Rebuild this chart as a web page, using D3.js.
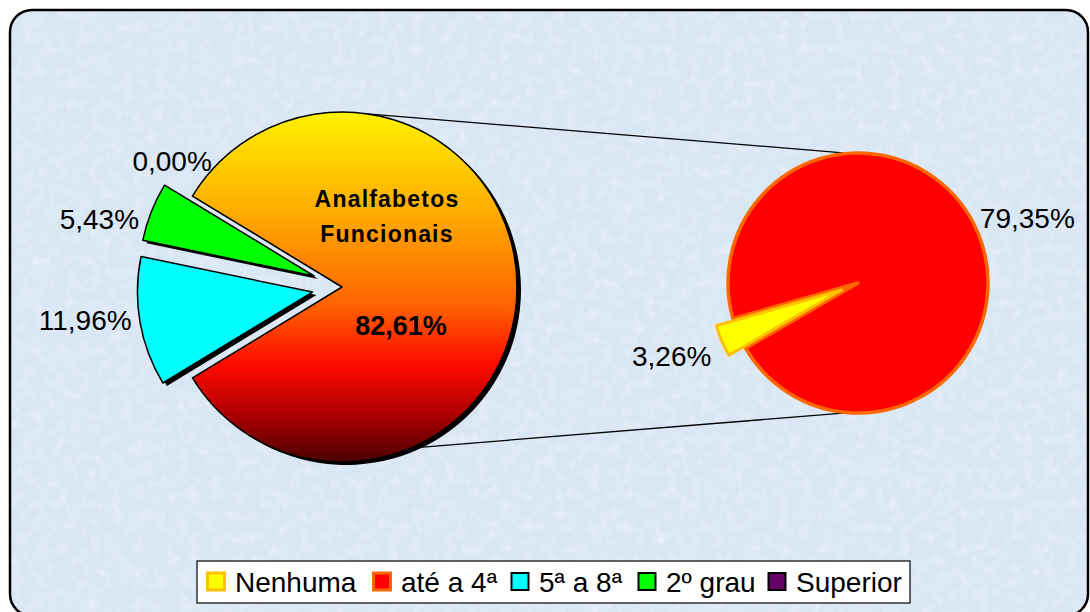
<!DOCTYPE html>
<html>
<head>
<meta charset="utf-8">
<script src="https://cdn.jsdelivr.net/npm/d3@7"></script>
<style>
  body { margin: 0; background: #fff; }
  svg { display: block; font-family: "Liberation Sans", Arial, sans-serif; }
</style>
</head>
<body>
<svg id="chart" width="1090" height="612"></svg>
<script>
// data
const mainLabels = ["Analfabetos Funcionais", "5ª a 8ª", "2º grau", "Superior"];
const mainValues = [82.61, 11.96, 5.43, 0.00];
const subLabels = ["Nenhuma", "até a 4ª"];
const subValues = [3.26, 79.35];
const legendLabels = ["Nenhuma", "até a 4ª", "5ª a 8ª", "2º grau", "Superior"];

const legendFill = ["#FFFF00", "#FF0000", "#00FFFF", "#00FF00", "#660066"];
const legendStroke = ["#FFC000", "#FF6600", "#000000", "#000000", "#000000"];

const fmt = v => v.toFixed(2).replace(".", ",") + "%";
const rad = d => d * Math.PI / 180;

const svg = d3.select("#chart");
const defs = svg.append("defs");

// textured pale blue background (fine marble-ish noise)
const filt = defs.append("filter").attr("id", "tex").attr("x", 0).attr("y", 0).attr("width", 1).attr("height", 1);
filt.append("feTurbulence").attr("type", "fractalNoise").attr("baseFrequency", 0.09).attr("numOctaves", 4).attr("seed", 7);
filt.append("feColorMatrix").attr("type", "matrix")
  .attr("values", "0 0 0 0 1  0 0 0 0 1  0 0 0 0 1  0 0 0 1.6 -0.7");
filt.append("feComposite").attr("in2", "SourceGraphic").attr("operator", "in");

const grad = defs.append("linearGradient").attr("id", "mainGrad")
  .attr("gradientUnits", "userSpaceOnUse");
[[0, "#FFF200"], [0.3, "#FFA800"], [0.55, "#FF6400"], [0.72, "#FF0A00"], [0.86, "#B00000"], [1, "#4A0000"]]
  .forEach(s => grad.append("stop").attr("offset", s[0]).attr("stop-color", s[1]));

const frame = { x: 10, y: 10, w: 1078, h: 606, rx: 22 };
const clip = defs.append("clipPath").attr("id", "frameClip");
clip.append("rect").attr("x", frame.x).attr("y", frame.y).attr("width", frame.w).attr("height", frame.h).attr("rx", frame.rx);

svg.append("rect").attr("x", frame.x).attr("y", frame.y).attr("width", frame.w).attr("height", frame.h).attr("rx", frame.rx)
  .attr("fill", "#D9E6F4");
svg.append("rect").attr("x", frame.x).attr("y", frame.y).attr("width", frame.w).attr("height", frame.h)
  .attr("clip-path", "url(#frameClip)")
  .attr("fill", "#fff").attr("filter", "url(#tex)").attr("opacity", 0.5);
svg.append("rect").attr("x", frame.x).attr("y", frame.y).attr("width", frame.w).attr("height", frame.h).attr("rx", frame.rx)
  .attr("fill", "none").attr("stroke", "#000").attr("stroke-width", 2.5);

// main pie
const mc = { x: 342, y: 287 }, R = 175, explode = 30;
grad.attr("x1", 0).attr("y1", -R).attr("x2", 0).attr("y2", R);
const bigShare = mainValues[0] / d3.sum(mainValues);
const mainStart = Math.PI / 2 - bigShare * Math.PI;
const mainPie = d3.pie().sort(null).value(d => d)
  .startAngle(mainStart).endAngle(mainStart + 2 * Math.PI);
const mainArcs = mainPie(mainValues);
const arcMain = d3.arc().innerRadius(0).outerRadius(R);
const off = (d, dist) => {
  const a = (d.startAngle + d.endAngle) / 2;
  return [Math.sin(a) * dist, -Math.cos(a) * dist];
};

// connector lines
const sc = { x: 858, y: 283 }, r2 = 130;
const pt = (c, r, deg) => [c.x + Math.sin(rad(deg)) * r, c.y - Math.cos(rad(deg)) * r];
[[8.3, -6.5], [157, 186.6]].forEach(p => {
  const a = pt(mc, R, p[0]), b = pt(sc, r2 + 1, p[1]);
  svg.append("line").attr("x1", a[0]).attr("y1", a[1]).attr("x2", b[0]).attr("y2", b[1])
    .attr("stroke", "#000").attr("stroke-width", 1.3);
});

const gMain = svg.append("g").attr("transform", `translate(${mc.x},${mc.y})`);
const mainFill = ["url(#mainGrad)", "#00FFFF", "#00FF00", "#660066"];
const slices = gMain.selectAll("g.slice").data(mainArcs).enter().append("g")
  .attr("class", "slice")
  .attr("transform", (d, i) => {
    const o = i === 0 ? [0, 0] : off(d, explode);
    return `translate(${o[0]},${o[1]})`;
  });
// shadow
slices.filter(d => d.value > 0).append("path").attr("d", arcMain)
  .attr("transform", "translate(4,3)").attr("fill", "#000");
slices.filter(d => d.value > 0).append("path").attr("d", arcMain)
  .attr("fill", d => mainFill[d.index])
  .attr("stroke", "#000").attr("stroke-width", 1.5).attr("stroke-linejoin", "round");

// main labels
gMain.append("text").attr("text-anchor", "middle").attr("font-weight", "bold").attr("font-size", 23)
  .attr("letter-spacing", 1.2).attr("fill", "#000")
  .selectAll("tspan").data(mainLabels[0].split(" ")).enter().append("tspan")
  .attr("x", 45).attr("y", (d, i) => -80 + i * 35).text(d => d);
gMain.append("text").attr("x", 59).attr("y", 48).attr("text-anchor", "middle")
  .attr("font-weight", "bold").attr("font-size", 27).text(fmt(mainValues[0]));

const outLab = [null, { a: 261, r: 213 }, { a: 288.5, r: 214 }, { a: 314, r: 181 }];
mainArcs.forEach((d, i) => {
  if (!outLab[i]) return;
  const p = pt({ x: 0, y: 0 }, outLab[i].r, outLab[i].a);
  gMain.append("text").attr("x", p[0]).attr("y", p[1]).attr("dy", "0.35em")
    .attr("text-anchor", "end").attr("font-size", 28).attr("fill", "#000").text(fmt(d.value));
});

// secondary pie
const subShare = subValues[0] / d3.sum(subValues);
const subStart = rad(247) - subShare * Math.PI;
const subPie = d3.pie().sort(null).value(d => d)
  .startAngle(subStart).endAngle(subStart + 2 * Math.PI);
const subArcs = subPie(subValues);
const arcSub = d3.arc().innerRadius(0).outerRadius(r2);
const gSub = svg.append("g").attr("transform", `translate(${sc.x},${sc.y})`);
gSub.append("path").datum(subArcs[1]).attr("d", arcSub)
  .attr("fill", "#FF0000").attr("stroke", "#FF6600").attr("stroke-width", 3.5).attr("stroke-linejoin", "round");
const yo = off(subArcs[0], 18);
gSub.append("path").datum(subArcs[0]).attr("d", arcSub)
  .attr("transform", `translate(${yo[0]},${yo[1]})`)
  .attr("fill", "#FFFF00").attr("stroke", "#FFC000").attr("stroke-width", 3).attr("stroke-linejoin", "round");

const p1 = pt({ x: yo[0], y: yo[1] }, 146, 243);
gSub.append("text").attr("x", p1[0]).attr("y", p1[1]).attr("dy", "0.35em").attr("text-anchor", "end")
  .attr("font-size", 28).text(fmt(subValues[0]));
const p2 = pt({ x: 0, y: 0 }, 138, 62);
gSub.append("text").attr("x", p2[0]).attr("y", p2[1]).attr("dy", "0.35em").attr("text-anchor", "start")
  .attr("font-size", 28).text(fmt(subValues[1]));

// legend
const lg = svg.append("g");
lg.append("rect").attr("x", 197).attr("y", 561).attr("width", 713).attr("height", 42)
  .attr("fill", "#fff").attr("stroke", "#000").attr("stroke-width", 1.2);
const itemX = [206, 372, 510, 637, 767];
legendLabels.forEach((t, i) => {
  lg.append("rect").attr("x", itemX[i] + 1.5).attr("y", 573).attr("width", 17).attr("height", 17)
    .attr("fill", legendFill[i]).attr("stroke", legendStroke[i])
    .attr("stroke-width", i < 2 ? 3 : 2);
  lg.append("text").attr("x", itemX[i] + 29).attr("y", 582).attr("dy", "0.36em")
    .attr("font-size", 28).attr("fill", "#000").text(t);
});
</script>
</body>
</html>
